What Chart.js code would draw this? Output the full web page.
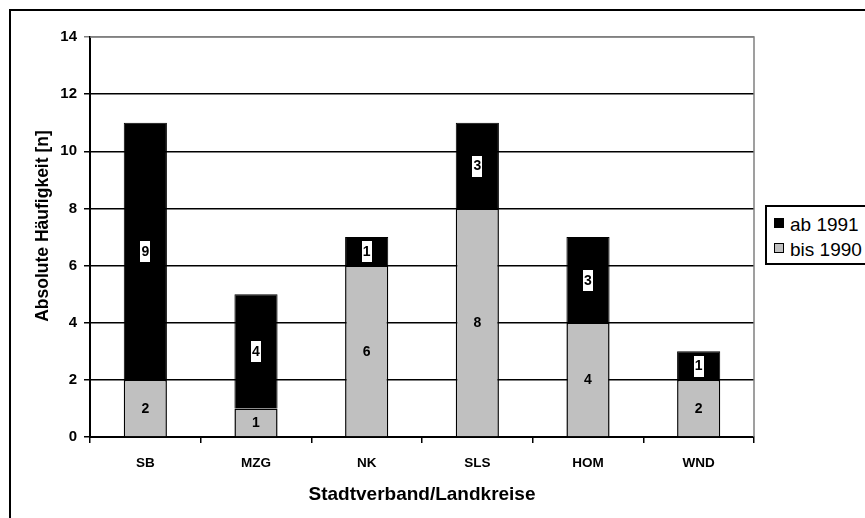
<!DOCTYPE html>
<html>
<head>
<meta charset="utf-8">
<script src="https://cdn.jsdelivr.net/npm/chart.js@4/dist/chart.umd.min.js"></script>
<style>
  body { margin: 0; background: #fff; }
  .wrap { position: relative; width: 865px; height: 518px; overflow: hidden; }
  .frame { position: absolute; left: 9px; top: 9px; width: 1000px; height: 1000px; border: 2px solid #000; }
  canvas { position: absolute; left: 0; top: 0; }
  .chart__legend { position: absolute; left: 765px; top: 205px; width: 160px; height: 56px; border: 2px solid #000; background: #fff; }
  .chart__legend ul { list-style: none; margin: 0; padding: 5px 0 0 7px; }
  .legend__list-item { display: flex; align-items: center; height: 25px; font: 19px "Liberation Sans", Arial, sans-serif; color: #000; white-space: nowrap; }
  .legend-item__icon { display: inline-block; width: 8px; height: 8px; border: 1px solid #000; margin-right: 6px; margin-top: -4px; flex: none; }
  .legend-item__text { margin: 0; }
</style>
</head>
<body>
<div class="wrap">
  <div class="frame"></div>
  <canvas id="bar-chart" width="865" height="518"></canvas>
  <div id="chart__legend" class="chart__legend"></div>
</div>
<script>
const categories = ['SB', 'MZG', 'NK', 'SLS', 'HOM', 'WND']
const bis1990 = [2, 1, 6, 8, 4, 2]
const ab1991 = [9, 4, 1, 3, 3, 1]
const yTicks = [0, 2, 4, 6, 8, 10, 12, 14]

const FONT = '"Liberation Sans", Arial, sans-serif'

const htmlLegend = () => {
  const box = document.getElementById('chart__legend')
  const ul = document.createElement('ul')
  const items = [['ab 1991', '#000000'], ['bis 1990', '#c0c0c0']]
  items.forEach(([text, color]) => {
    const li = document.createElement('li')
    li.classList.add('legend__list-item')
    const icon = document.createElement('span')
    icon.classList.add('legend-item__icon')
    icon.style.background = color
    const p = document.createElement('p')
    p.classList.add('legend-item__text')
    p.textContent = text
    li.appendChild(icon)
    li.appendChild(p)
    ul.appendChild(li)
  })
  box.appendChild(ul)
}

const plotBorder = {
  id: 'plotBorder',
  beforeDatasetsDraw(chart) {
    const {ctx, chartArea} = chart
    ctx.save()
    ctx.strokeStyle = '#808080'
    ctx.lineWidth = 1.5
    ctx.beginPath()
    ctx.moveTo(chartArea.left, chartArea.top)
    ctx.lineTo(chartArea.right, chartArea.top)
    ctx.lineTo(chartArea.right, chartArea.bottom)
    ctx.stroke()
    ctx.restore()
  }
}

// y title sits a bit above the middle of the plot in the original
const yTitle = {
  id: 'yTitle',
  afterDraw(chart) {
    const {ctx} = chart
    ctx.save()
    ctx.translate(43, 226)
    ctx.rotate(-Math.PI / 2)
    ctx.font = 'bold 17.5px ' + FONT
    ctx.fillStyle = '#000'
    ctx.textAlign = 'center'
    ctx.textBaseline = 'middle'
    ctx.fillText('Absolute Häufigkeit [n]', 0, 0)
    ctx.restore()
  }
}

const segmentLabels = {
  id: 'segmentLabels',
  afterDatasetsDraw(chart) {
    const {ctx} = chart
    ctx.save()
    ctx.font = 'bold 14px ' + FONT
    ctx.textAlign = 'center'
    ctx.textBaseline = 'middle'
    chart.data.datasets.forEach((ds, i) => {
      chart.getDatasetMeta(i).data.forEach((bar, j) => {
        const text = String(ds.data[j])
        const cy = (bar.y + bar.base) / 2
        if (i === 1) {
          const w = ctx.measureText(text).width + 2
          ctx.fillStyle = '#fff'
          ctx.fillRect(Math.round(bar.x - w / 2), Math.round(cy - 10), Math.round(w), 21)
        }
        ctx.fillStyle = '#000'
        ctx.fillText(text, bar.x, cy + 1)
      })
    })
    ctx.restore()
  }
}

new Chart(document.getElementById('bar-chart'), {
  type: 'bar',
  data: {
    labels: categories,
    datasets: [{
      label: 'bis 1990',
      data: bis1990,
      backgroundColor: '#c0c0c0',
      borderColor: '#000',
      borderWidth: 1.5,
    },
    {
      label: 'ab 1991',
      data: ab1991,
      backgroundColor: '#000',
      borderColor: '#000',
      borderWidth: 1,
    }]
  },
  options: {
    responsive: false,
    animation: false,
    layout: { padding: { left: 0, top: 37, right: 111, bottom: 0 } },
    datasets: { bar: { categoryPercentage: 1, barPercentage: 0.39 } },
    scales: {
      x: {
        stacked: true,
        afterFit: s => { s.height = 81 },
        grid: { display: true, drawOnChartArea: false, tickLength: 6, color: '#000', lineWidth: 1.5, offset: true },
        border: { color: '#000', width: 2 },
        ticks: { color: '#000', padding: 12, font: { family: FONT, size: 13.5, weight: 'bold' } },
        title: { display: true, text: 'Stadtverband/Landkreise', color: '#000', padding: { top: 0, bottom: 12 }, font: { family: FONT, size: 19, weight: 'bold' } }
      },
      y: {
        stacked: true,
        min: 0,
        max: 14,
        afterFit: s => { s.width = 90 },
        afterBuildTicks: s => { s.ticks = yTicks.map(v => ({value: v})) },
        grid: {
          tickLength: 6,
          lineWidth: 1.5,
          color: ctx => ctx.tick && ctx.tick.value === 14 ? '#808080' : '#000'
        },
        border: { color: '#000', width: 2 },
        ticks: { color: '#000', padding: 7, font: { family: FONT, size: 15, weight: 'bold' } },
        title: { display: false }
      }
    },
    plugins: {
      legend: { display: false },
      tooltip: { enabled: false }
    }
  },
  plugins: [plotBorder, segmentLabels, yTitle]
})

htmlLegend()
</script>
</body>
</html>
